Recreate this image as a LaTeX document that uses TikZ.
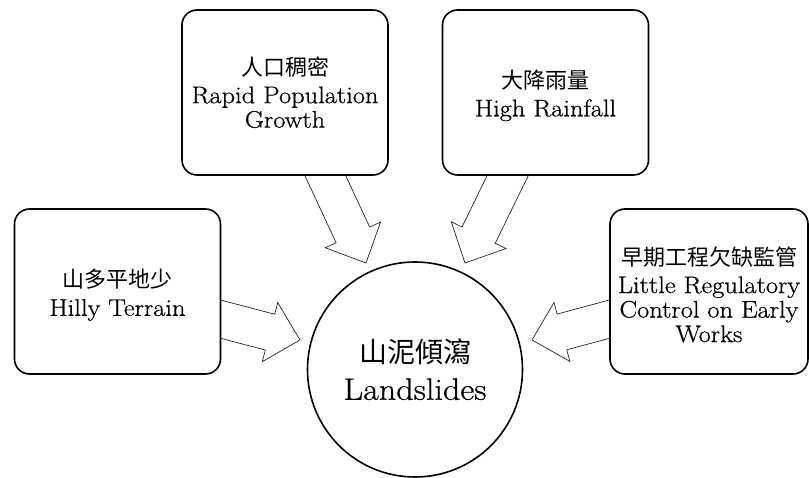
\documentclass[tikz,border=0pt]{standalone}
\usepackage{fontspec}
\setmainfont{Latin Modern Roman}[FakeStretch=1.1, FakeBold=0.6]
\newfontfamily\cjk{Noto Sans CJK TC}
\usetikzlibrary{calc}
\tikzset{
  box/.style={draw, fill=white, line width=1.6pt, rounded corners=15pt, minimum width=206pt,
    minimum height=165pt, inner sep=0pt, align=center,
    font=\fontsize{24}{24.5}\selectfont},
  hub/.style={circle, draw, line width=1.6pt, minimum size=215pt, inner sep=0pt,
    align=center, font=\fontsize{31}{37}\selectfont},
  barrow/.style={draw=black!85, line width=0.7pt, line join=miter}
}
\newcommand\cjkline[1]{{\cjk\fontsize{22}{22}\selectfont #1}}
\newcommand\cjktop[1]{{\cjk\fontsize{22}{22}\selectfont\rule{0pt}{25pt}#1}}
\newcommand\blockarrow[2]{%
  \draw[barrow] let \p1=($(#2)!1.3!(#1)$), \p2=(#2),
      \n1={atan2(\y2-\y1,\x2-\x1)}, \n2={veclen(\x2-\x1,\y2-\y1)} in
    ([shift={(\p1)},rotate=\n1]0pt,18.5pt)
    -- ([shift={(\p1)},rotate=\n1]{\n2-31pt},18.5pt)
    -- ([shift={(\p1)},rotate=\n1]{\n2-31pt},30.5pt)
    -- ([shift={(\p1)},rotate=\n1]{\n2},0pt)
    -- ([shift={(\p1)},rotate=\n1]{\n2-31pt},-30.5pt)
    -- ([shift={(\p1)},rotate=\n1]{\n2-31pt},-18.5pt)
    -- ([shift={(\p1)},rotate=\n1]0pt,-18.5pt);%
}
\begin{document}
\begin{tikzpicture}[x=1pt,y=-1pt]
\useasboundingbox (0,0) rectangle (809,478);

% arrow end points (tails sit on the box borders, tips near the circle)
\coordinate (s1) at (325,175);
\coordinate (s2) at (508,175);
\coordinate (s3) at (220,319);
\coordinate (s4) at (610,319);
\coordinate (t1) at (366,263);
\coordinate (t2) at (465,263);
\coordinate (t3) at (300,340);
\coordinate (t4) at (532,340);

\blockarrow{s1}{t1}
\blockarrow{s2}{t2}
\blockarrow{s3}{t3}
\blockarrow{s4}{t4}

\node[box] (b1) at (285,92.5) {\cjkline{人口稠密}\\[3pt]Rapid Population\\Growth};
\node[box] (b2) at (545.5,92.5) {\cjktop{大降雨量}\\[3pt]High Rainfall};
\node[box] (b3) at (117.5,291.5) {\cjktop{山多平地少}\\[4pt]Hilly Terrain};
\node[box, minimum width=198pt] (b4) at (709,291.5) {\cjktop{早期工程欠缺監管}\\[3pt]Little Regulatory\\Control on Early\\Works};

\node[hub] (c) at (415,369.5) {{\cjk\fontsize{28}{28}\selectfont 山泥傾瀉}\\Landslides};
\end{tikzpicture}
\end{document}
